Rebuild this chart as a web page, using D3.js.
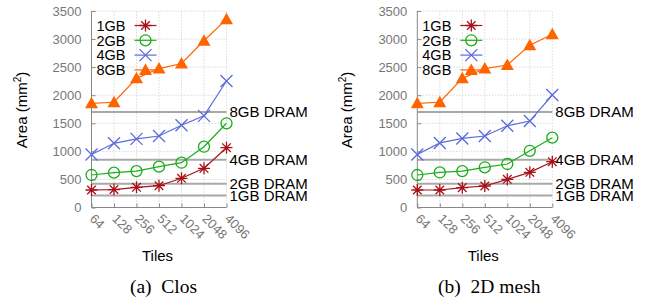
<!DOCTYPE HTML>
<html>
  <head>
    <script src="https://d3js.org/d3.v7.min.js"></script>
    <style>
      body { margin: 0; background: white; }
      svg { font-family: "Liberation Sans", Arial, sans-serif; }
      .tick text { fill: #777; font-size: 13px; }
      .dram text { fill: black; font-size: 15px; }
      .legend text { fill: black; font-size: 14.5px; }
      .caption { font-family: "Liberation Serif", "Times New Roman", serif; font-size: 19.5px; white-space: pre; }
    </style>
    <title>Area vs tiles</title>
  </head>
  <body>
    <svg width="654" height="301"></svg>
    <script>
      var tiles = ["64", "128", "256", "512", "1024", "2048", "4096"];
      var yTicks = [0, 500, 1000, 1500, 2000, 2500, 3000, 3500];
      var seriesNames = ["1GB", "2GB", "4GB", "8GB"];
      var dramNames = ["1GB DRAM", "2GB DRAM", "4GB DRAM", "8GB DRAM"];
      var dramArea = [212, 425, 850, 1700];

      var clos1GB = [312, 320, 360, 388, 520, 698, 1065];
      var clos2GB = [579, 620, 648, 727, 798, 1083, 1500];
      var clos4GB = [945, 1143, 1222, 1274, 1465, 1632, 2253];
      var clos8GB = [1855, 1875, 2300, 2475, 2565, 2970, 3355];

      var mesh1GB = [312, 312, 354, 383, 502, 626, 816];
      var mesh2GB = [579, 624, 648, 716, 775, 1010, 1244];
      var mesh4GB = [945, 1150, 1230, 1274, 1455, 1540, 2004];
      var mesh8GB = [1855, 1875, 2300, 2475, 2538, 2892, 3085];

      var colors = ["#a8111a", "#1aad1a", "#5b6bdc", "#ff6400"];
      var svg = d3.select("svg");

      function marker(g, type, color) {
        if (type == 0) {
          g.append("path").attr("d", "M-6,0H6M0,-6V6M-4.3,-4.3L4.3,4.3M-4.3,4.3L4.3,-4.3")
            .attr("stroke", color).attr("stroke-width", 1.3).attr("fill", "none");
        } else if (type == 1) {
          g.append("circle").attr("r", 5.5).attr("stroke", color).attr("stroke-width", 1.3).attr("fill", "none");
        } else if (type == 2) {
          g.append("path").attr("d", "M-6,-6L6,6M-6,6L6,-6")
            .attr("stroke", color).attr("stroke-width", 1.3).attr("fill", "none");
        } else {
          g.append("path").attr("d", "M0,-6.5L6.5,5L-6.5,5Z").attr("fill", color);
        }
      }

      function drawPanel(left, series, caption) {
        var g = svg.append("g").attr("transform", "translate(" + left + ",0)");
        var x = d3.scalePoint().domain(tiles).range([0, 135]);
        var y = d3.scaleLinear().domain([0, 3500]).range([207.5, 11]);

        // grid
        g.append("g").selectAll("line").data(yTicks.slice(1)).enter().append("line")
          .attr("x1", 0).attr("x2", 135).attr("y1", y).attr("y2", y)
          .attr("stroke", "#c8c8c8").attr("stroke-dasharray", "1,2");
        g.append("g").selectAll("line").data(tiles.slice(1)).enter().append("line")
          .attr("x1", x).attr("x2", x).attr("y1", y(0)).attr("y2", y(3500))
          .attr("stroke", "#c8c8c8").attr("stroke-dasharray", "1,2");

        // dram levels
        var dram = g.append("g").attr("class", "dram");
        dram.selectAll("line").data(dramArea).enter().append("line")
          .attr("x1", 0).attr("x2", 135).attr("y1", y).attr("y2", y)
          .attr("stroke", "#a8a8a8").attr("stroke-width", 2);
        dram.selectAll("text").data(dramArea).enter().append("text")
          .attr("x", 138).attr("y", function(d){return y(d);}).attr("dy", "0.36em")
          .text(function(d, i){return dramNames[i];});

        // axes
        var yAxis = g.append("g")
          .call(d3.axisLeft(y).tickValues(yTicks).tickFormat(d3.format("d")).tickSize(-4).tickPadding(10));
        var xAxis = g.append("g").attr("transform", "translate(0," + y(0) + ")")
          .call(d3.axisBottom(x).tickSize(-4));
        yAxis.select(".domain").remove();
        xAxis.select(".domain").remove();
        g.append("path").attr("d", "M0," + y(3500) + "V" + y(0) + "H135")
          .attr("stroke", "#888").attr("fill", "none");
        g.selectAll(".tick line").attr("stroke", "#888");
        xAxis.selectAll("text").attr("text-anchor", "start")
          .attr("transform", "translate(-3,12) rotate(45)").attr("y", 0).attr("dy", 0);

        // series
        var line = d3.line().x(function(d, i){return x(tiles[i]);}).y(function(d){return y(d);});
        series.forEach(function(s, k) {
          g.append("path").datum(s).attr("d", line).attr("fill", "none")
            .attr("stroke", colors[k]).attr("stroke-width", 1.2);
          g.append("g").selectAll("g").data(s).enter().append("g")
            .attr("transform", function(d, i){return "translate(" + x(tiles[i]) + "," + y(d) + ")";})
            .each(function(){ marker(d3.select(this), k, colors[k]); });
        });

        // legend
        var leg = g.append("g").attr("class", "legend");
        seriesNames.forEach(function(n, k) {
          var ly = 25.5 + k * 14.8;
          leg.append("text").attr("x", 34).attr("y", ly).attr("dy", "0.36em")
            .attr("text-anchor", "end").text(n);
          leg.append("line").attr("x1", 43).attr("x2", 65).attr("y1", ly).attr("y2", ly)
            .attr("stroke", colors[k]).attr("stroke-width", 1.2);
          marker(leg.append("g").attr("transform", "translate(54," + ly + ")"), k, colors[k]);
        });

        // labels
        g.append("text").attr("transform", "translate(-65,110) rotate(-90)")
          .attr("text-anchor", "middle").attr("font-size", "15px")
          .html("Area (mm<tspan dy='-6' font-size='10px'>2</tspan><tspan dy='6'>)</tspan>");
        g.append("text").attr("x", 66).attr("y", 261).attr("text-anchor", "middle")
          .attr("font-size", "15px").text("Tiles");
        g.append("text").attr("class", "caption").attr("x", 72).attr("y", 293)
          .attr("text-anchor", "middle").text(caption);
      }

      drawPanel(91.5, [clos1GB, clos2GB, clos4GB, clos8GB], "(a)  Clos");
      drawPanel(417.3, [mesh1GB, mesh2GB, mesh4GB, mesh8GB], "(b)  2D mesh");
    </script>
  </body>
</html>
